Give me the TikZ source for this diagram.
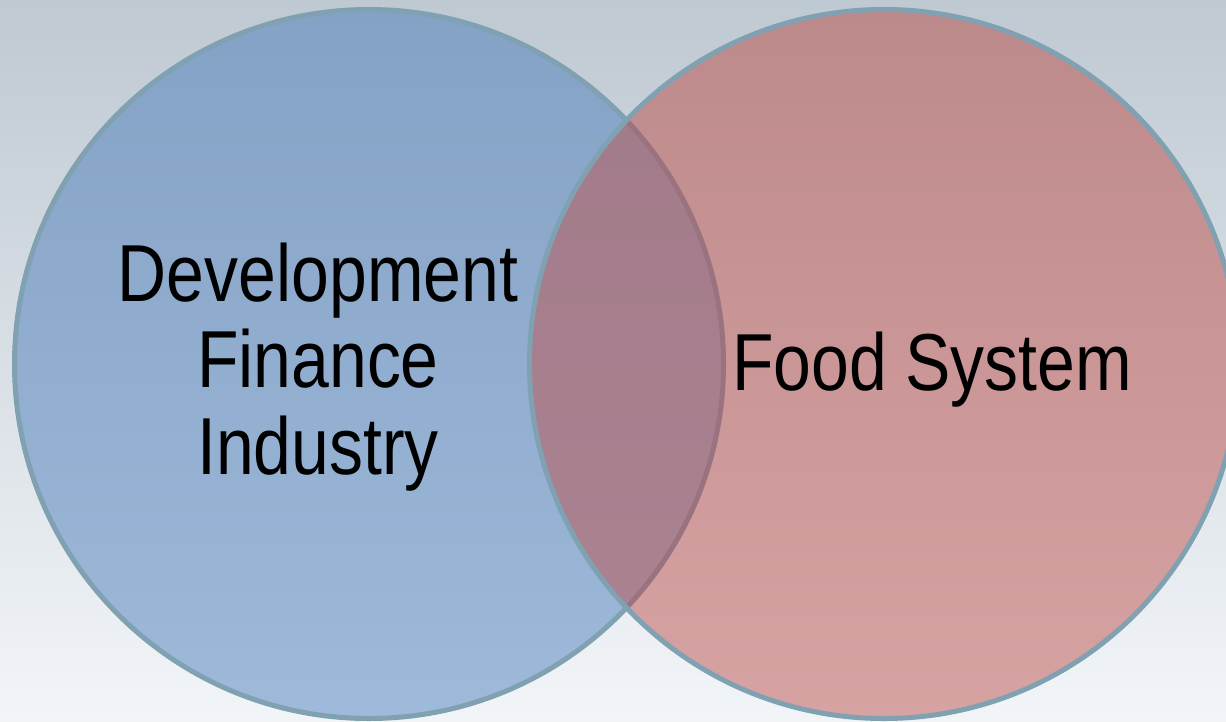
\documentclass[tikz,border=0pt]{standalone}
\usepackage{fontspec}
\usepackage{xcolor}
\usepackage{tikz}
\usetikzlibrary{positioning}
\newfontfamily\vennfont[FakeStretch=0.84]{Liberation Sans}
\definecolor{bgtop}{HTML}{BFC9D2}
\definecolor{bgmid}{HTML}{D5DCE2}
\definecolor{bgbot}{HTML}{F2F5F8}
\definecolor{bluetop}{HTML}{84A2C6}
\definecolor{bluebot}{HTML}{9EB9D9}
\definecolor{pinktop}{HTML}{BD8A8B}
\definecolor{pinkbot}{HTML}{D7A2A2}
\definecolor{mixtop}{HTML}{A17A89}
\definecolor{mixbot}{HTML}{AC8391}
\definecolor{rim}{HTML}{7FA1B1}
\definecolor{rimdark}{HTML}{9A737F}

\begin{document}
\begin{tikzpicture}[
				rimline/.style = {draw=rim, line width=0.1cm},
				label/.style = {inner sep=0pt, align=center, text=black,
					font=\vennfont\fontsize{46}{49}\selectfont}]
				\useasboundingbox (0,0) rectangle (24.52,14.42);
				\shade[top color=bgtop, middle color=bgmid, bottom color=bgbot] (0,0) rectangle (24.52,14.42);
				\coordinate (lc) at (7.38,7.14);
				\coordinate (rc) at (17.68,7.14);
				% the two sets
				\shade[top color=bluetop, bottom color=bluebot] (lc) circle (7.09);
				\draw[rimline] (lc) circle (7.09);
				\shade[top color=pinktop, bottom color=pinkbot] (rc) circle (7.09);
				% the overlap
				\begin{scope}
					\clip (rc) circle (7.09);
					\shade[top color=mixtop, bottom color=mixbot] (lc) circle (7.09);
					\draw[draw=rimdark, line width=0.1cm] (lc) circle (7.09);
				\end{scope}
				\draw[rimline] (rc) circle (7.09);
				\node at (6.36,7.08) (dev) [label] {Development\\Finance\\Industry};
				\node at (18.64,6.62) (food) [label, anchor=base] {Food System};
			\end{tikzpicture}
\end{document}
